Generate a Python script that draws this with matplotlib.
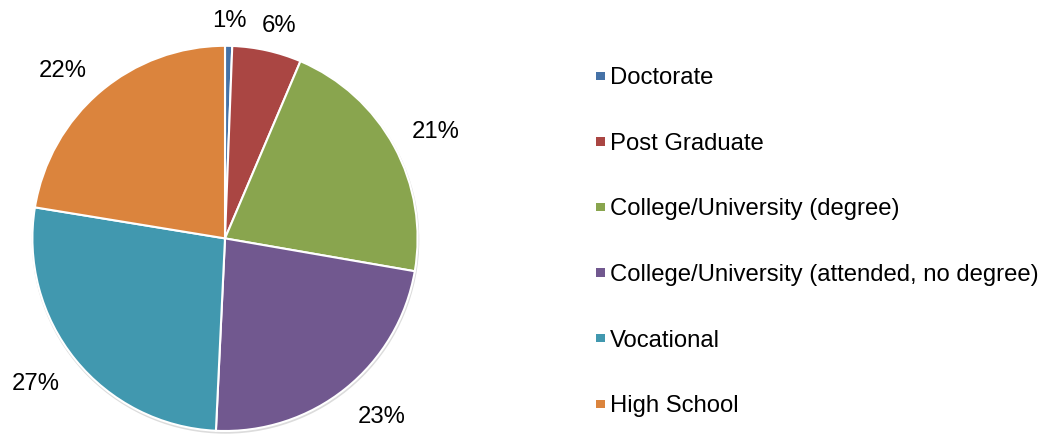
import matplotlib
matplotlib.use("Agg")
import matplotlib.pyplot as plt
import numpy as np
from matplotlib.patches import Rectangle, Circle

# Highest level of education attained (share of respondents, %)
categories = ["Doctorate", "Post Graduate", "College/University (degree)",
              "College/University (attended, no degree)", "Vocational", "High School"]
shares = [0.6, 5.8, 21.3, 23.0, 26.8, 22.4]
colors = ["#4572A7", "#AA4643", "#89A54E", "#71588F", "#4198AF", "#DB843D"]

plt.rcParams["font.family"] = ["Liberation Sans", "DejaVu Sans"]
FS = 17.2

W, H = 1048, 435
fig = plt.figure(figsize=(W / 100, H / 100), dpi=100)
ax = fig.add_axes([0, 0, 1, 1])

cx, cy, R = 225.0, 195.6, 192.6

# faint drop shadow under the pie
ax.add_patch(Circle((cx + 0.5, cy - 1.5), R + 1.2, facecolor="#dcdcdc",
                    edgecolor="none", zorder=0))

wedges, _ = ax.pie(shares, colors=colors, startangle=90, counterclock=False,
                   center=(cx, cy), radius=R, frame=True,
                   wedgeprops=dict(edgecolor="white", linewidth=1.5))

ax.set_xlim(0, W)
ax.set_ylim(0, H)
ax.set_aspect("equal")
ax.set_axis_off()

# percentage labels just outside each wedge
renderer = fig.canvas.get_renderer()
total = sum(shares)
em = FS * 100 / 72
digit_h = 0.716 * em
for w, v in zip(wedges, shares):
    theta = np.deg2rad((w.theta1 + w.theta2) / 2)
    t = ax.text(0, 0, f"{100 * v / total:.0f}%", fontsize=FS,
                ha="center", va="baseline")
    tw = t.get_window_extent(renderer).width
    c, s = np.cos(theta), np.sin(theta)
    x = cx + R * 1.105 * c + tw / 2 * np.clip(2 * c, -1, 1)
    y = cy + R * 1.105 * s + digit_h / 2 * np.clip(2 * s, -1, 1)
    t.set_position((x, y - digit_h / 2))

# legend: small square swatch + label per category
base0, step = 84.3, 65.6
for i, (name, col) in enumerate(zip(categories, colors)):
    b = H - (base0 + i * step)
    ax.add_patch(Rectangle((596, b + 3.3), 8.5, 8.4, facecolor=col, edgecolor="none"))
    ax.text(610, b, name, fontsize=FS, ha="left", va="baseline", color="black")

fig.savefig("out.png", dpi=100)
